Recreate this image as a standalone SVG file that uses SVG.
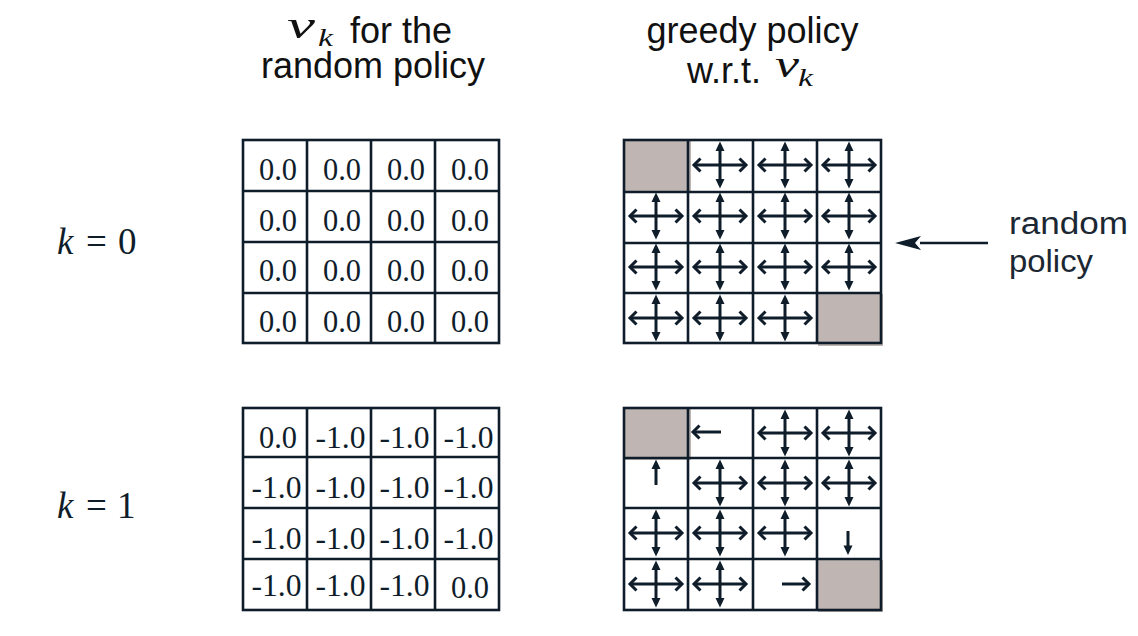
<svg xmlns="http://www.w3.org/2000/svg" xmlns:xlink="http://www.w3.org/1999/xlink" width="1138" height="636" viewBox="0 0 1138 636">
<style>
.hdr{font-family:"Liberation Sans",Arial,sans-serif;font-size:36px;fill:#111}
.mi{font-family:"Liberation Serif","Times New Roman",serif;font-style:italic;fill:#111}
.num{font-family:"Liberation Serif","Times New Roman",serif;font-size:32px;fill:#0f1d2b}
.klab{font-family:"Liberation Serif","Times New Roman",serif;font-size:37px;fill:#0f1d2b}
.side{font-family:"Liberation Sans",Arial,sans-serif;font-size:31px;fill:#1b2733}
.grid{fill:none;stroke:#0f1d2b;stroke-width:2.6}
.term{fill:#bfb6b3}
.ln{stroke:#0f1d2b;stroke-width:3;fill:none}
.chev{stroke:#0f1d2b;stroke-width:3;fill:none;stroke-linejoin:miter;stroke-linecap:butt}
.tri{fill:#0f1d2b}
</style>
<defs>
<g id="cross">
<line class="ln" x1="-25" y1="0" x2="25" y2="0"/>
<path class="chev" d="M-19.5,-6.5 L-26,0 L-19.5,6.5"/>
<path class="chev" d="M19.5,-6.5 L26,0 L19.5,6.5"/>
<line class="ln" x1="0" y1="-16" x2="0" y2="16"/>
<path class="tri" d="M0,-23.5 L-4.5,-14 L4.5,-14 Z"/>
<path class="tri" d="M0,23.5 L-4.5,14 L4.5,14 Z"/>
</g>
<marker id="ah" viewBox="0 0 26 14" refX="1" refY="7" markerWidth="26" markerHeight="14" markerUnits="userSpaceOnUse" orient="auto">
<path d="M26,7 L0,0 L6,7 L0,14 Z" fill="#0f1d2b"/>
</marker>
</defs>

<g id="header-left">
<text class="mi" x="287" y="38" font-size="38" textLength="28" lengthAdjust="spacingAndGlyphs">v</text>
<text class="mi" x="318" y="46" font-size="26" textLength="15" lengthAdjust="spacingAndGlyphs">k</text>
<text class="hdr" x="350" y="43">for the</text>
<text class="hdr" x="373" y="78" text-anchor="middle">random policy</text>
</g>

<g id="header-right">
<text class="hdr" x="752.5" y="43" text-anchor="middle">greedy policy</text>
<text class="hdr" x="687" y="83">w.r.t.</text>
<text class="mi" x="775" y="77" font-size="38" textLength="24" lengthAdjust="spacingAndGlyphs">v</text>
<text class="mi" x="798" y="86" font-size="26" textLength="15" lengthAdjust="spacingAndGlyphs">k</text>
</g>

<g id="label-k0">
<text class="klab" x="57" y="254" font-style="italic">k</text>
<text class="klab" x="86" y="254">=</text>
<text class="klab" x="118" y="254">0</text>
</g>
<g id="label-k1">
<text class="klab" x="57" y="518" font-style="italic">k</text>
<text class="klab" x="86" y="518">=</text>
<text class="klab" x="117" y="518">1</text>
</g>

<g id="values-k0">
<rect class="grid" x="243" y="140" width="256" height="203" fill="#fff"/>
<path class="grid" d="M307,140V343M371,140V343M435,140V343M243,191H499M243,242H499M243,293H499"/>
<g class="num">
<text x="259" y="180" textLength="38" lengthAdjust="spacingAndGlyphs">0.0</text>
<text x="323" y="180" textLength="38" lengthAdjust="spacingAndGlyphs">0.0</text>
<text x="387" y="180" textLength="38" lengthAdjust="spacingAndGlyphs">0.0</text>
<text x="451" y="180" textLength="38" lengthAdjust="spacingAndGlyphs">0.0</text>
<text x="259" y="231" textLength="38" lengthAdjust="spacingAndGlyphs">0.0</text>
<text x="323" y="231" textLength="38" lengthAdjust="spacingAndGlyphs">0.0</text>
<text x="387" y="231" textLength="38" lengthAdjust="spacingAndGlyphs">0.0</text>
<text x="451" y="231" textLength="38" lengthAdjust="spacingAndGlyphs">0.0</text>
<text x="259" y="281" textLength="38" lengthAdjust="spacingAndGlyphs">0.0</text>
<text x="323" y="281" textLength="38" lengthAdjust="spacingAndGlyphs">0.0</text>
<text x="387" y="281" textLength="38" lengthAdjust="spacingAndGlyphs">0.0</text>
<text x="451" y="281" textLength="38" lengthAdjust="spacingAndGlyphs">0.0</text>
<text x="259" y="332" textLength="38" lengthAdjust="spacingAndGlyphs">0.0</text>
<text x="323" y="332" textLength="38" lengthAdjust="spacingAndGlyphs">0.0</text>
<text x="387" y="332" textLength="38" lengthAdjust="spacingAndGlyphs">0.0</text>
<text x="451" y="332" textLength="38" lengthAdjust="spacingAndGlyphs">0.0</text>
</g>
</g>

<g id="values-k1">
<rect class="grid" x="243" y="408" width="256" height="202" fill="#fff"/>
<path class="grid" d="M307,408V610M371,408V610M435,408V610M243,457H499M243,508H499M243,559H499"/>
<g class="num">
<text x="259" y="448" textLength="38" lengthAdjust="spacingAndGlyphs">0.0</text>
<text x="315.5" y="448" textLength="50" lengthAdjust="spacingAndGlyphs">-1.0</text>
<text x="379.5" y="448" textLength="50" lengthAdjust="spacingAndGlyphs">-1.0</text>
<text x="443.5" y="448" textLength="50" lengthAdjust="spacingAndGlyphs">-1.0</text>
<text x="251.5" y="498" textLength="50" lengthAdjust="spacingAndGlyphs">-1.0</text>
<text x="315.5" y="498" textLength="50" lengthAdjust="spacingAndGlyphs">-1.0</text>
<text x="379.5" y="498" textLength="50" lengthAdjust="spacingAndGlyphs">-1.0</text>
<text x="443.5" y="498" textLength="50" lengthAdjust="spacingAndGlyphs">-1.0</text>
<text x="251.5" y="549" textLength="50" lengthAdjust="spacingAndGlyphs">-1.0</text>
<text x="315.5" y="549" textLength="50" lengthAdjust="spacingAndGlyphs">-1.0</text>
<text x="379.5" y="549" textLength="50" lengthAdjust="spacingAndGlyphs">-1.0</text>
<text x="443.5" y="549" textLength="50" lengthAdjust="spacingAndGlyphs">-1.0</text>
<text x="251.5" y="596" textLength="50" lengthAdjust="spacingAndGlyphs">-1.0</text>
<text x="315.5" y="596" textLength="50" lengthAdjust="spacingAndGlyphs">-1.0</text>
<text x="379.5" y="596" textLength="50" lengthAdjust="spacingAndGlyphs">-1.0</text>
<text x="451" y="598" textLength="38" lengthAdjust="spacingAndGlyphs">0.0</text>
</g>
</g>

<g id="policy-k0">
<rect x="624" y="140" width="257" height="203" fill="#fff"/>
<rect class="term" x="625" y="141" width="66" height="52"/>
<rect class="term" x="818" y="294" width="65" height="52"/>
<rect class="grid" x="624" y="140" width="257" height="203"/>
<path class="grid" d="M688,140V343M753,140V343M817,140V343M624,192H881M624,243H881M624,293H881"/>
<use xlink:href="#cross" x="720" y="165"/>
<use xlink:href="#cross" x="785" y="165"/>
<use xlink:href="#cross" x="849" y="165"/>
<use xlink:href="#cross" x="656" y="216"/>
<use xlink:href="#cross" x="720" y="216"/>
<use xlink:href="#cross" x="785" y="216"/>
<use xlink:href="#cross" x="849" y="216"/>
<use xlink:href="#cross" x="656" y="267"/>
<use xlink:href="#cross" x="720" y="267"/>
<use xlink:href="#cross" x="785" y="267"/>
<use xlink:href="#cross" x="849" y="267"/>
<use xlink:href="#cross" x="656" y="318"/>
<use xlink:href="#cross" x="720" y="318"/>
<use xlink:href="#cross" x="785" y="318"/>
</g>

<g id="policy-k1">
<rect x="624" y="408" width="257" height="202" fill="#fff"/>
<rect class="term" x="625" y="409" width="66" height="51"/>
<rect class="term" x="818" y="560" width="65" height="52"/>
<rect class="grid" x="624" y="408" width="257" height="202"/>
<path class="grid" d="M688,408V610M753,408V610M817,408V610M624,458H881M624,508H881M624,559H881"/>
<line class="ln" x1="721" y1="432" x2="694" y2="432"/>
<path class="chev" d="M699.5,425.5 L693,432 L699.5,438.5"/>
<line class="ln" x1="656" y1="485" x2="656" y2="468"/>
<path class="tri" d="M656,459.5 L651.5,469 L660.5,469 Z"/>
<use xlink:href="#cross" x="785" y="433"/>
<use xlink:href="#cross" x="849" y="433"/>
<use xlink:href="#cross" x="720" y="483"/>
<use xlink:href="#cross" x="785" y="483"/>
<use xlink:href="#cross" x="849" y="483"/>
<use xlink:href="#cross" x="656" y="533"/>
<use xlink:href="#cross" x="720" y="533"/>
<use xlink:href="#cross" x="785" y="533"/>
<line class="ln" x1="848" y1="531" x2="848" y2="546"/>
<path class="tri" d="M848,555 L843.5,545.5 L852.5,545.5 Z"/>
<use xlink:href="#cross" x="656" y="584"/>
<use xlink:href="#cross" x="720" y="584"/>
<line class="ln" x1="782" y1="584" x2="808" y2="584"/>
<path class="chev" d="M802.5,577.5 L809,584 L802.5,590.5"/>
</g>

<g id="label-random-policy">
<text class="side" x="1009" y="234" textLength="119" lengthAdjust="spacingAndGlyphs">random</text>
<text class="side" x="1009" y="272" textLength="84" lengthAdjust="spacingAndGlyphs">policy</text>
</g>

<g id="connectors">
<line x1="988" y1="243" x2="920" y2="243" stroke="#0f1d2b" stroke-width="2.6" marker-end="url(#ah)"/>
</g>
</svg>
